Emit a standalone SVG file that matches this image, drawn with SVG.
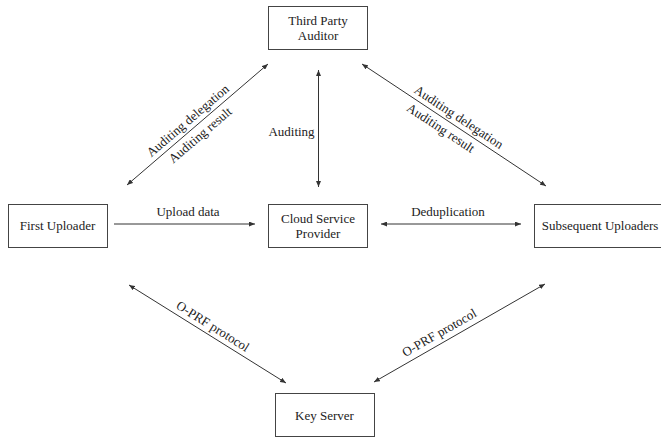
<svg xmlns="http://www.w3.org/2000/svg" width="661" height="439" viewBox="0 0 661 439">
<defs>
<style>
.box{fill:#fff;stroke:#444;stroke-width:1}
.t{font-family:"Liberation Serif","Times New Roman",serif;font-size:13px;fill:#222;text-anchor:middle}
.c{stroke:#333;stroke-width:1;fill:none}
</style>
<marker id="ah" viewBox="0 0 6 5" refX="6" refY="2.5" markerWidth="6" markerHeight="5" markerUnits="userSpaceOnUse" orient="auto-start-reverse">
<path d="M0,0 L6,2.5 L0,5 z" fill="#333"/>
</marker>
</defs>
<rect width="661" height="439" fill="#fff"/>
<g id="connectors">
<line class="c" x1="127" y1="185" x2="268" y2="64" marker-start="url(#ah)" marker-end="url(#ah)"/>
<line class="c" x1="318.5" y1="70" x2="318.5" y2="187" marker-start="url(#ah)" marker-end="url(#ah)"/>
<line class="c" x1="362" y1="64" x2="546" y2="186" marker-start="url(#ah)" marker-end="url(#ah)"/>
<line class="c" x1="114" y1="224" x2="255" y2="224" marker-end="url(#ah)"/>
<line class="c" x1="381" y1="224" x2="521" y2="224" marker-start="url(#ah)" marker-end="url(#ah)"/>
<line class="c" x1="129" y1="285" x2="286" y2="383" marker-start="url(#ah)" marker-end="url(#ah)"/>
<line class="c" x1="374" y1="382" x2="545" y2="284" marker-start="url(#ah)" marker-end="url(#ah)"/>
<g transform="translate(193.8,127.7) rotate(-40.6)">
<text class="t" x="0" y="-5">Auditing delegation</text>
<text class="t" x="0" y="14">Auditing result</text>
</g>
<text class="t" x="291.5" y="135.5">Auditing</text>
<text class="t" transform="translate(453.6,124.8) rotate(33.5)" x="0" y="-5">Auditing delegation</text>
<text class="t" transform="translate(446.1,119.9) rotate(33.5)" x="0" y="14">Auditing result</text>
<text class="t" x="188" y="216">Upload data</text>
<text class="t" x="448" y="216">Deduplication</text>
<text class="t" transform="translate(207.9,334.2) rotate(32)" x="0" y="-5">O-PRF protocol</text>
<text class="t" transform="translate(444.3,341.7) rotate(-29.8)" x="0" y="-6">O-PRF protocol</text>
</g>
<g id="tpa">
<rect class="box" x="268.5" y="6.5" width="99" height="43"/>
<text class="t" x="318" y="24.5">Third Party</text>
<text class="t" x="318" y="39.5">Auditor</text>
</g>
<g id="csp">
<rect class="box" x="268.5" y="204.5" width="99" height="43"/>
<text class="t" x="318" y="222.5">Cloud Service</text>
<text class="t" x="318" y="237.5">Provider</text>
</g>
<g id="first">
<rect class="box" x="8.5" y="204.5" width="99" height="43"/>
<text class="t" x="57.5" y="230">First Uploader</text>
</g>
<g id="subsequent">
<rect class="box" x="534.5" y="204.5" width="130" height="43"/>
<text class="t" x="600" y="230">Subsequent Uploaders</text>
</g>
<g id="keyserver">
<rect class="box" x="275.5" y="393.5" width="99" height="43"/>
<text class="t" x="324.5" y="419.5">Key Server</text>
</g>
</svg>
